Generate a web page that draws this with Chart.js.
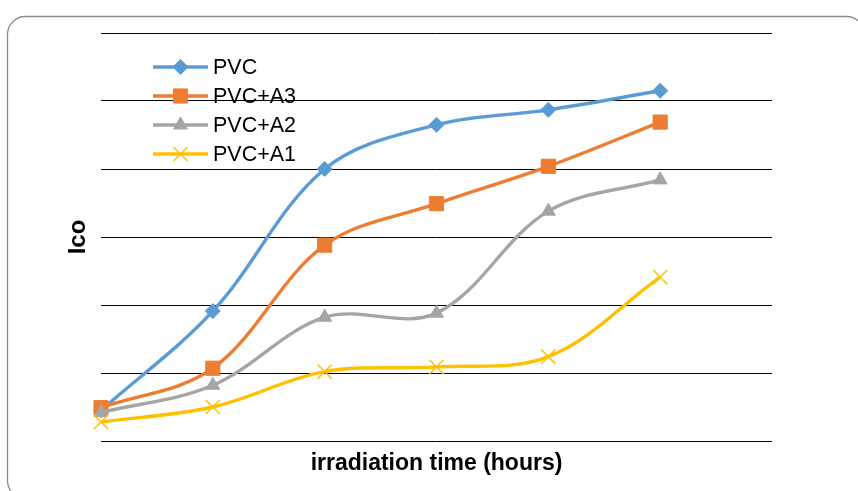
<!DOCTYPE html>
<html>
<head>
<meta charset="UTF-8">
<title>Ico vs irradiation time</title>
<script src="https://cdn.jsdelivr.net/npm/chart.js"></script>
<style>
  html, body { margin: 0; padding: 0; background: #fff; }
  canvas { display: block; }
</style>
</head>
<body>
<canvas id="chart" width="858" height="491"></canvas>
<script>
// points along the x axis (no tick labels shown in the original)
const timePoints = [0, 1, 2, 3, 4, 5];
const seriesNames = ['PVC', 'PVC+A3', 'PVC+A2', 'PVC+A1'];
const pvc   = [0.45, 1.91, 4.00, 4.65, 4.87, 5.15];
const pvcA3 = [0.49, 1.07, 2.88, 3.49, 4.04, 4.69];
const pvcA2 = [0.42, 0.82, 1.82, 1.88, 3.38, 3.84];
const pvcA1 = [0.28, 0.50, 1.02, 1.09, 1.24, 2.41];

const colors = ['#5B9BD5', '#ED7D31', '#A5A5A5', '#FFC000'];
const markers = ['rectRot', 'rect', 'triangle', 'crossRot'];
const markerSizes = [7.5, 10, 8, 10];

const toPoints = vals => vals.map((v, i) => ({ x: timePoints[i], y: v }));

const datasets = [pvc, pvcA3, pvcA2, pvcA1].map((vals, i) => ({
  label: seriesNames[i],
  data: toPoints(vals),
  borderColor: colors[i],
  backgroundColor: colors[i],
  borderWidth: 3.4,
  tension: 0.35,
  pointStyle: markers[i],
  pointRadius: markerSizes[i],
  pointHoverRadius: markerSizes[i],
  pointBackgroundColor: colors[i],
  pointBorderColor: colors[i],
  pointBorderWidth: markers[i] === 'crossRot' ? 1.5 : 1,
  order: 3 - i,
  clip: false
}));

// rounded frame around the whole chart
const frame = {
  id: 'frame',
  beforeDraw(chart) {
    const ctx = chart.ctx;
    ctx.save();
    ctx.fillStyle = '#fff';
    ctx.fillRect(0, 0, chart.width, chart.height);
    ctx.strokeStyle = '#8c8c8c';
    ctx.lineWidth = 1.3;
    ctx.beginPath();
    ctx.roundRect(7.5, 16.5, 857, 482, 18);
    ctx.stroke();
    ctx.restore();
  }
};

// legend drawn inside the plot, top-left
const legendInside = {
  id: 'legendInside',
  afterDraw(chart) {
    const ctx = chart.ctx;
    const x0 = 153, x1 = 208, y0 = 67, step = 29;
    chart.data.datasets.forEach((ds, i) => {
      const y = y0 + i * step;
      ctx.save();
      ctx.strokeStyle = ds.borderColor;
      ctx.lineWidth = 3.4;
      ctx.beginPath();
      ctx.moveTo(x0, y);
      ctx.lineTo(x1, y);
      ctx.stroke();
      ctx.fillStyle = ds.pointBackgroundColor;
      ctx.strokeStyle = ds.pointBorderColor;
      ctx.lineWidth = ds.pointBorderWidth;
      Chart.helpers.drawPoint(ctx, {
        pointStyle: ds.pointStyle,
        radius: ds.pointRadius,
        borderWidth: ds.pointBorderWidth,
        rotation: 0
      }, (x0 + x1) / 2, y);
      ctx.fillStyle = '#000';
      ctx.font = '21.5px "Liberation Sans", Arial, sans-serif';
      ctx.textBaseline = 'alphabetic';
      ctx.fillText(ds.label, 213, y + 7);
      ctx.restore();
    });
  }
};

new Chart(document.getElementById('chart'), {
  type: 'line',
  data: { datasets },
  plugins: [frame, legendInside],
  options: {
    responsive: false,
    animation: false,
    layout: { padding: { left: 0, top: 33, right: 86, bottom: 0 } },
    plugins: { legend: { display: false }, tooltip: { enabled: false } },
    scales: {
      x: {
        type: 'linear',
        min: 0,
        max: 6,
        ticks: { display: false },
        grid: { display: false },
        border: { display: false },
        title: {
          display: true,
          text: 'irradiation time (hours)',
          color: '#000',
          font: { family: '"Liberation Sans", Arial, sans-serif', size: 23, weight: 'bold' },
          padding: { top: 0, bottom: 14 }
        },
        afterFit(scale) { scale.height = 50; }
      },
      y: {
        min: 0,
        max: 6,
        ticks: { display: false, stepSize: 1 },
        grid: { color: '#000', lineWidth: 1, drawTicks: false },
        border: { display: false },
        title: {
          display: true,
          text: 'Ico',
          color: '#000',
          font: { family: '"Liberation Sans", Arial, sans-serif', size: 24, weight: 'bold' },
          padding: { top: 64, bottom: 0 }
        },
        afterFit(scale) { scale.width = 101; }
      }
    }
  }
});
</script>
</body>
</html>
